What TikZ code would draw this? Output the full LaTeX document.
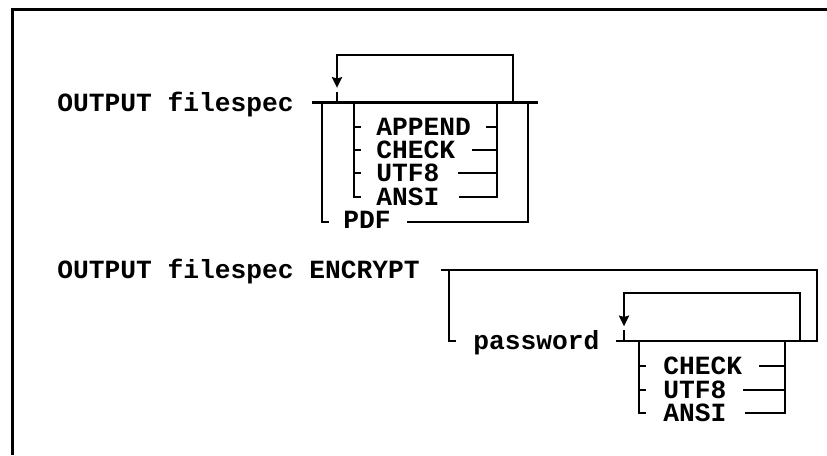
\documentclass[tikz,border=0pt]{standalone}
\usepackage{fontspec}
\newfontfamily\railfont{Liberation Mono}
\usepackage{tikz}
\usetikzlibrary{arrows.meta}
\tikzstyle{rail} = [line width=1.8pt, line cap=rect]
\tikzstyle{keyword} = [font=\railfont\bfseries\fontsize{19.7}{21}\selectfont,
inner sep=0pt, anchor=base west]
\tikzstyle{back} = [line width=1.8pt, -{Stealth[length=8pt, width=7.5pt, inset=1pt]}]
\tikzstyle{frame} = [line width=2.5pt]

\begin{document}
\begin{tikzpicture}[x=0.75pt, y=-0.75pt]
\useasboundingbox (0,0) rectangle (827,455);
\draw[frame] (12.5,455) -- (12.5,9.5) -- (827,9.5);

% OUTPUT filespec
\node(out1)[keyword] at (57,111.5){OUTPUT filespec};
\node(app1)[keyword] at (376,135.5){APPEND};
\node(chk1)[keyword] at (376,158.5){CHECK};
\node(utf1)[keyword] at (376,181.5){UTF8};
\node(ans1)[keyword] at (376,205){ANSI};
\node(pdf1)[keyword] at (343,228){PDF};

\coordinate(in1) at (313,102.5);
\coordinate(ex1) at (537,102.5);
\coordinate(lpl1) at (337,55);
\coordinate(lpr1) at (513,55);
\coordinate(obl1) at (322,222);
\coordinate(obr1) at (528,222);
\coordinate(ibl1) at (354,197);
\coordinate(ibr1) at (497,197);

\draw[rail](in1) -- (ex1);
\draw[rail](lpr1 |- in1) -- (lpr1) -- (lpl1);
\draw[back](lpl1) -- ([yshift=11pt]lpl1 |- in1);
\draw[rail]([yshift=7pt]lpl1 |- in1) -- (lpl1 |- in1);
\draw[rail](obl1 |- in1) -- (obl1) -- ++(6,0);
\draw[rail]([xshift=13pt]pdf1.east |- obr1) -- (obr1) -- (obr1 |- in1);
\draw[rail](ibl1 |- in1) -- (ibl1) -- ++(6,0);
\foreach \k in {app1,chk1,utf1}
  \draw[rail](ibl1 |- \k.east) -- ++(6,0);
\draw[rail](ibr1 |- in1) -- (ibr1);
\draw[rail]([xshift=12pt]app1.east) -- (ibr1 |- app1.east);
\draw[rail]([xshift=13.5pt]chk1.east) -- (ibr1 |- chk1.east);
\draw[rail]([xshift=15pt]utf1.east) -- (ibr1 |- utf1.east);
\draw[rail]([xshift=15.5pt]ans1.east |- ibr1) -- (ibr1);

% OUTPUT filespec ENCRYPT
\node(out2)[keyword] at (57,278.5){OUTPUT filespec ENCRYPT};
\node(pwd2)[keyword] at (473,349.5){password};
\node(chk2)[keyword] at (663,374.5){CHECK};
\node(utf2)[keyword] at (663,398.5){UTF8};
\node(ans2)[keyword] at (663,421.5){ANSI};

\coordinate(in2) at (442,270);
\coordinate(ex2) at (817,341);
\coordinate(obl2) at (449,341);
\coordinate(row2) at (617,341);
\coordinate(lpl2) at (624,293);
\coordinate(lpr2) at (800,293);
\coordinate(ibl2) at (639,413);
\coordinate(ibr2) at (785,413);

\draw[rail](in2) -| (ex2);
\draw[rail](obl2 |- in2) -- (obl2) -- ++(6,0);
\draw[rail](row2) -- (ex2);
\draw[rail](lpr2 |- row2) -- (lpr2) -- (lpl2);
\draw[back](lpl2) -- ([yshift=11pt]lpl2 |- row2);
\draw[rail]([yshift=7pt]lpl2 |- row2) -- (lpl2 |- row2);
\draw[rail](ibl2 |- row2) -- (ibl2) -- ++(6,0);
\foreach \k in {chk2,utf2}
  \draw[rail](ibl2 |- \k.east) -- ++(6,0);
\draw[rail](ibr2 |- row2) -- (ibr2);
\draw[rail]([xshift=13.5pt]chk2.east) -- (ibr2 |- chk2.east);
\draw[rail]([xshift=13.5pt]utf2.east) -- (ibr2 |- utf2.east);
\draw[rail]([xshift=15pt]ans2.east |- ibr2) -- (ibr2);

\end{tikzpicture}
\end{document}
